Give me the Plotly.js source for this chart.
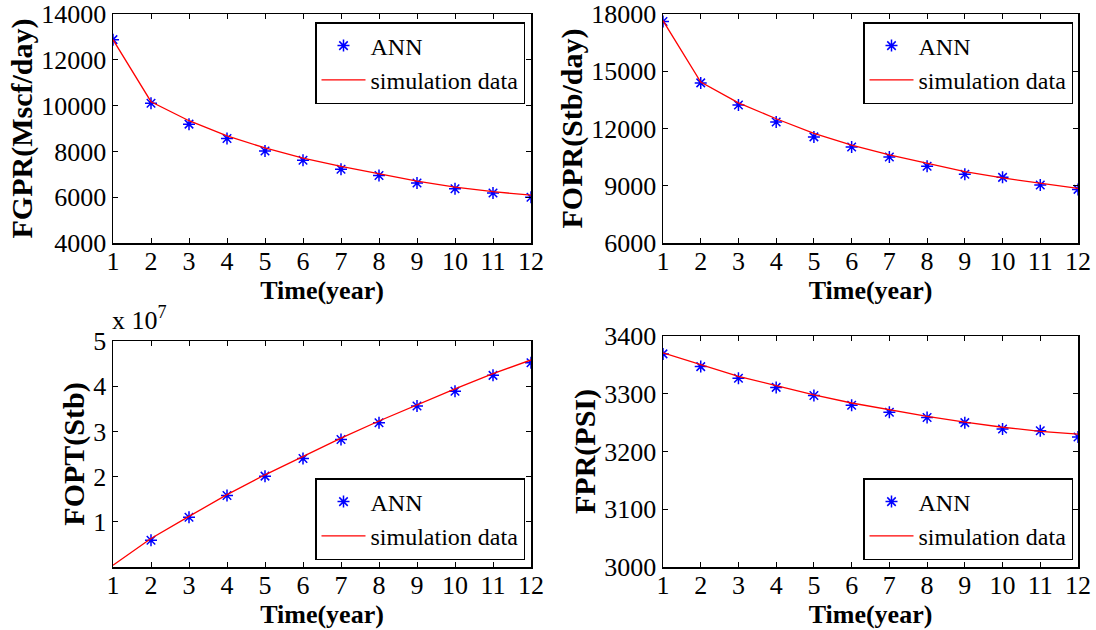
<!DOCTYPE html>
<html>
<head>
<meta charset="utf-8">
<script src="https://cdn.plot.ly/plotly-3.0.1.min.js"></script>
<style>html,body{margin:0;padding:0;background:#fff;}#chart{width:1096px;height:630px;}</style>
</head>
<body>
<div id="chart"></div>
<script>
const years = [1,2,3,4,5,6,7,8,9,10,11,12];

const fgprSim = [12880,10170,9340,8680,8150,7710,7350,7030,6700,6440,6240,6090];
const fgprAnn = [12880,10100,9190,8560,8020,7610,7220,6950,6620,6370,6180,6000];

const foprSim = [17650,14430,13340,12510,11750,11130,10620,10170,9740,9410,9130,8860];
const foprAnn = [17610,14390,13230,12340,11560,11030,10510,10020,9600,9440,9040,8810];

const foptSim = [0.04e7,0.63e7,1.12e7,1.60e7,2.04e7,2.45e7,2.85e7,3.23e7,3.59e7,3.94e7,4.28e7,4.58e7];
const foptAnn = [null,0.59e7,1.10e7,1.58e7,2.01e7,2.40e7,2.82e7,3.19e7,3.56e7,3.89e7,4.24e7,4.52e7];

const fprSim = [3371,3350,3330,3314,3298,3284,3272,3261,3251,3242,3235,3230];
const fprAnn = [3369,3347,3327,3311,3297,3280,3268,3259,3250,3239,3236,3225];

const foptTickVals = [1e7,2e7,3e7,4e7,5e7];
const foptTickText = ['1','2','3','4','5'];

const FONT = '"Liberation Serif", "Times New Roman", "DejaVu Serif", serif';
const annName = 'ANN';
const simName = 'simulation data';

function pair(xa, ya, leg, ann, sim) {
  return [
    {x: years, y: ann, type: 'scatter', mode: 'markers', name: annName, xaxis: xa, yaxis: ya, legend: leg,
     marker: {symbol: 'asterisk-open', size: 10, color: '#0000ff', line: {color: '#0000ff', width: 1.5}}},
    {x: years, y: sim, type: 'scatter', mode: 'lines', name: simName, xaxis: xa, yaxis: ya, legend: leg,
     line: {color: '#ff0000', width: 1.3}}
  ];
}

const data = [].concat(
  pair('x', 'y', 'legend', fgprAnn, fgprSim),
  pair('x2', 'y2', 'legend2', foprAnn, foprSim),
  pair('x3', 'y3', 'legend3', foptAnn, foptSim),
  pair('x4', 'y4', 'legend4', fprAnn, fprSim)
);

function xax(domain, anchor) {
  return {
    domain: domain, anchor: anchor, range: [1, 12], tickvals: years,
    ticks: 'inside', ticklen: 5, tickwidth: 1, tickcolor: '#000',
    showline: true, linecolor: '#000', linewidth: 1.5, mirror: 'allticks',
    showgrid: false, zeroline: false, automargin: false, ticklabelstandoff: -6,
    tickfont: {family: FONT, size: 26, color: '#000'},
    title: {text: 'Time(year)', font: {family: FONT, size: 26, color: '#000', weight: 'bold'}, standoff: 0}
  };
}
function yax(domain, anchor, range, dtick, title, extra) {
  const o = {
    domain: domain, anchor: anchor, range: range, dtick: dtick, tickformat: 'd',
    ticks: 'inside', ticklen: 5, tickwidth: 1, tickcolor: '#000',
    showline: true, linecolor: '#000', linewidth: 1.5, mirror: 'allticks',
    showgrid: false, zeroline: false, automargin: false,
    tickfont: {family: FONT, size: 26, color: '#000'},
    title: {text: title, font: {family: FONT, size: 30, color: '#000', weight: 'bold'}, standoff: 0}
  };
  return Object.assign(o, extra || {});
}
function leg(x, y, yanchor) {
  return {
    x: x, y: y, xanchor: 'right', yanchor: yanchor, xref: 'paper', yref: 'paper',
    bgcolor: '#fff', bordercolor: '#000', borderwidth: 1.5,
    font: {family: FONT, size: 24, color: '#000'},
    itemwidth: 44, tracegroupgap: 0
  };
}

const dxL = [113/1096, 531/1096];
const dxR = [663/1096, 1078/1096];
const dyT = [1 - 243/630, 1 - 14/630];
const dyBL = [1 - 567/630, 1 - 341/630];
const dyBR = [1 - 567/630, 1 - 336/630];

const layout = {
  width: 1096, height: 630,
  margin: {l: 0, r: 0, t: 0, b: 0},
  paper_bgcolor: '#fff', plot_bgcolor: '#fff',
  showlegend: true,
  font: {family: FONT, color: '#000'},
  xaxis: xax(dxL, 'y'),
  yaxis: yax(dyT, 'x', [4000, 14000], 2000, 'FGPR(Mscf/day)'),
  xaxis2: xax(dxR, 'y2'),
  yaxis2: yax(dyT, 'x2', [6000, 18000], 3000, 'FOPR(Stb/day)'),
  xaxis3: xax(dxL, 'y3'),
  yaxis3: yax(dyBL, 'x3', [0, 5e7], null, 'FOPT(Stb)', {tickvals: foptTickVals, ticktext: foptTickText}),
  xaxis4: xax(dxR, 'y4'),
  yaxis4: yax(dyBR, 'x4', [3000, 3400], 100, 'FPR(PSI)'),
  legend: leg(525/1096, 1 - 22/630, 'top'),
  legend2: leg(1073/1096, 1 - 22/630, 'top'),
  legend3: leg(525/1096, 1 - 560/630, 'bottom'),
  legend4: leg(1073/1096, 1 - 560/630, 'bottom'),
  annotations: [{
    xref: 'paper', yref: 'paper', x: 110/1096, y: 1 - 337/630, xanchor: 'left', yanchor: 'bottom',
    text: 'x 10<sup>7</sup>', showarrow: false, font: {family: FONT, size: 26, color: '#000'}
  }]
};

Plotly.newPlot('chart', data, layout, {staticPlot: true});
</script>
</body>
</html>
